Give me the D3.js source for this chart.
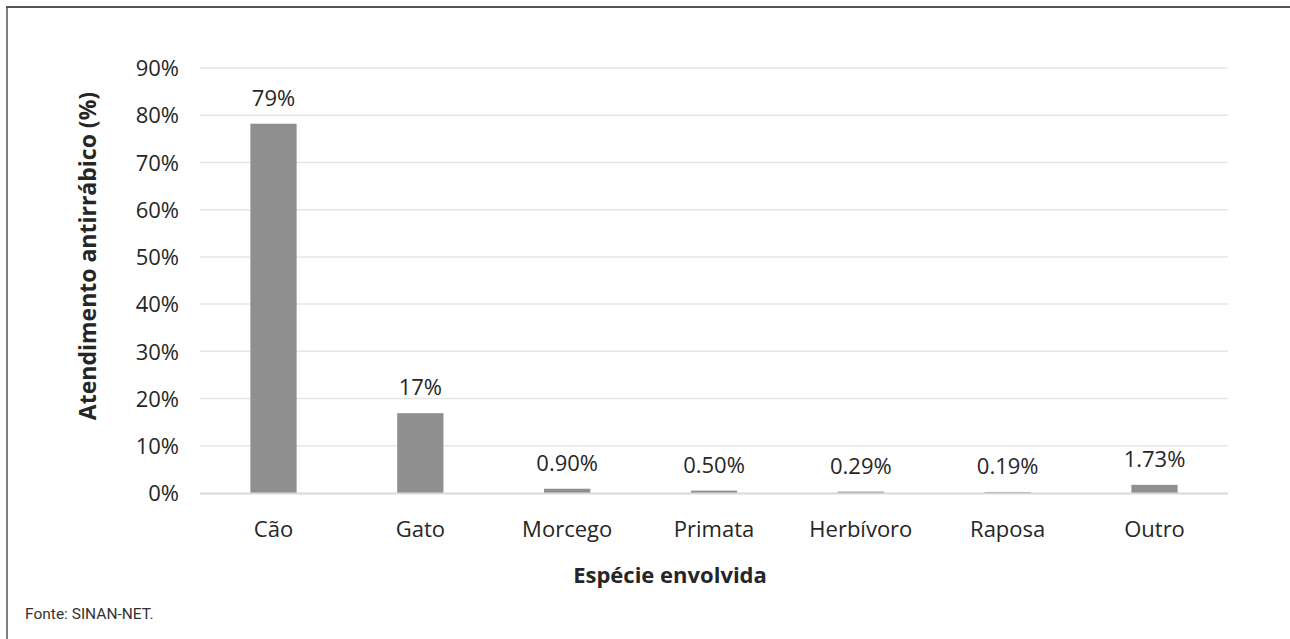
<!DOCTYPE html>
<html><head><meta charset="utf-8">
<script src="https://cdn.jsdelivr.net/npm/d3@7"></script>
<style>html,body{margin:0;padding:0;background:#fff;overflow:hidden}svg{display:block}</style>
</head><body>
<script>
const categories = ["Cão","Gato","Morcego","Primata","Herbívoro","Raposa","Outro"];
const values = [78.2, 16.9, 0.90, 0.50, 0.29, 0.19, 1.73];
const valueLabels = ["79%","17%","0.90%","0.50%","0.29%","0.19%","1.73%"];
const yTicks = [0,10,20,30,40,50,60,70,80,90];

const W = 1290, H = 639;
const svg = d3.select("body").append("svg").attr("width", W).attr("height", H);
const font = "'Open Sans', sans-serif";
const txt = "#262626";

// frame
svg.append("line").attr("x1",6).attr("x2",W).attr("y1",7).attr("y2",7).attr("stroke","#555").attr("stroke-width",2);
svg.append("line").attr("x1",7).attr("x2",7).attr("y1",6).attr("y2",H).attr("stroke","#555").attr("stroke-width",1.5);

const m = {left:200, right:1228, top:68, bottom:493};
const x = d3.scaleBand().domain(categories).range([m.left, m.right]).paddingInner(0.685).paddingOuter(0.343);
const y = d3.scaleLinear().domain([0,90]).range([m.bottom, m.top]);

// gridlines
svg.append("g").selectAll("line").data(yTicks.filter(d=>d>0)).join("line")
  .attr("x1",m.left).attr("x2",m.right)
  .attr("y1",d=>y(d)).attr("y2",d=>y(d))
  .attr("stroke","#e6e6e6").attr("stroke-width",1.5);

// y axis labels
const yAxis = d3.axisLeft(y).tickValues(yTicks).tickFormat(d=>d+"%").tickSize(0).tickPadding(0);
const gy = svg.append("g").attr("transform",`translate(${m.left-21},0)`).call(yAxis);
gy.select(".domain").remove();
gy.selectAll("text").attr("font-family",font).attr("font-size",22).attr("fill",txt).attr("dy","0.35em");

// bars
svg.append("g").selectAll("rect").data(values).join("rect")
  .attr("x",(d,i)=>x(categories[i]))
  .attr("width",x.bandwidth())
  .attr("y",d=>y(d))
  .attr("height",d=>y(0)-y(d))
  .attr("fill","#8f8f8f");

// baseline
svg.append("line").attr("x1",m.left).attr("x2",m.right).attr("y1",y(0)+0.5).attr("y2",y(0)+0.5)
  .attr("stroke","#d9d9d9").attr("stroke-width",2);

// value labels
svg.append("g").selectAll("text").data(values).join("text")
  .attr("x",(d,i)=>x(categories[i])+x.bandwidth()/2)
  .attr("y",d=>y(d)-18)
  .attr("text-anchor","middle")
  .attr("font-family",font).attr("font-size",22).attr("fill",txt)
  .text((d,i)=>valueLabels[i]);

// x axis labels
const xAxis = d3.axisBottom(x).tickSize(0).tickPadding(0);
const gx = svg.append("g").attr("transform",`translate(0,${y(0)})`).call(xAxis);
gx.select(".domain").remove();
gx.selectAll("text").attr("font-family",font).attr("font-size",22).attr("fill",txt).attr("dy",null).attr("y",44);

// axis titles
svg.append("text").attr("x",(m.left+m.right)/2 - 44).attr("y",583).attr("text-anchor","middle")
  .attr("font-family",font).attr("font-size",22).attr("font-weight","bold").attr("fill",txt)
  .text("Espécie envolvida");
svg.append("text").attr("transform",`translate(96,256) rotate(-90)`).attr("text-anchor","middle")
  .attr("font-family",font).attr("font-size",23).attr("font-weight","bold").attr("fill",txt)
  .text("Atendimento antirrábico (%)");

svg.append("text").attr("x",25).attr("y",619)
  .attr("font-family","'Liberation Sans Narrow', 'Roboto', sans-serif").attr("font-size",15.5).attr("fill","#333")
  .text("Fonte: SINAN-NET.");
</script>
</body></html>
